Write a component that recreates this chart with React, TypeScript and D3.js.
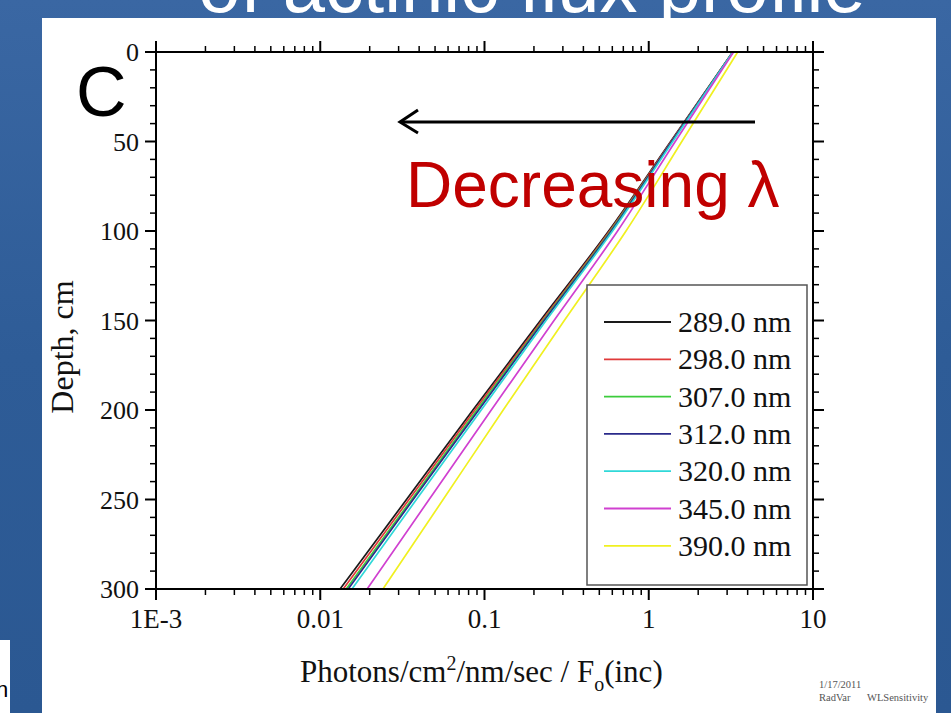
import React from "react";
import * as d3 from "d3";

const depths = [0, 50, 100, 150, 200, 250, 300];
const wavelengths = ["289.0 nm", "298.0 nm", "307.0 nm", "312.0 nm", "320.0 nm", "345.0 nm", "390.0 nm"];
const colors = ["#1a1a1a", "#e03a3a", "#3ccc3c", "#2a2a8a", "#30d8d8", "#d040d0", "#f0f020"];
const flux289 = [3.25, 1.36, 0.57, 0.219, 0.085, 0.0335, 0.0132];
const flux298 = [3.25, 1.37, 0.578, 0.224, 0.0874, 0.0347, 0.0138];
const flux307 = [3.25, 1.38, 0.586, 0.228, 0.09, 0.036, 0.0144];
const flux312 = [3.25, 1.38, 0.592, 0.231, 0.0922, 0.0368, 0.0148];
const flux320 = [3.25, 1.4, 0.602, 0.237, 0.0955, 0.0385, 0.0156];
const flux345 = [3.28, 1.45, 0.646, 0.265, 0.11, 0.046, 0.0193];
const flux390 = [3.48, 1.59, 0.727, 0.306, 0.13, 0.056, 0.0241];
const seriesValues = [flux289, flux298, flux307, flux312, flux320, flux345, flux390];
const xMajorTicks = [1e-3, 1e-2, 1e-1, 1, 10];
const xTickLabels = ["1E-3", "0.01", "0.1", "1", "10"];
const yMajorTicks = [0, 50, 100, 150, 200, 250, 300];

const W = 951, H = 713;
const serif = "'Liberation Serif', 'Times New Roman', serif";
const sans = "'Liberation Sans', Arial, sans-serif";

export default function App() {
  const x = d3.scaleLog().domain([1e-3, 10]).range([156, 813]);
  const y = d3.scaleLinear().domain([0, 300]).range([52, 589]);
  const [x0, x1] = x.range();
  const [y0, y1] = y.range();

  const xMinor: number[] = [];
  for (let e = -3; e < 1; e++) for (let k = 2; k <= 9; k++) xMinor.push(k * Math.pow(10, e));
  const yMinor = d3.range(0, 301, 10).filter((v) => v % 50 !== 0);

  const line = d3
    .line<[number, number]>()
    .x((d) => x(d[1]))
    .y((d) => y(d[0]))
    .curve(d3.curveMonotoneY);

  const MAJ = 11, MIN = 6;
  const legendX = 587, legendY = 285, legendW = 220, legendH = 300;
  const rowY0 = 322, rowStep = 37.3;

  return (
    <svg width={W} height={H} style={{ position: "fixed", left: 0, top: 0 }}>
      <defs>
        <linearGradient id="bg" x1="0" y1="0" x2="0" y2="1">
          <stop offset="0" stopColor="#3a67a3" />
          <stop offset="0.5" stopColor="#2e5c97" />
          <stop offset="1" stopColor="#2b5892" />
        </linearGradient>
        <clipPath id="plot">
          <rect x={x0} y={y0} width={x1 - x0} height={y1 - y0} />
        </clipPath>
      </defs>
      <rect x={0} y={0} width={W} height={H} fill="url(#bg)" />
      <text x={532} y={12} fill="#ffffff" fontFamily={sans} fontSize={76} textAnchor="middle">
        of actinic flux profile
      </text>
      <rect x={0} y={640} width={10} height={73} fill="#ffffff" />
      <text x={-4} y={697} fontFamily={sans} fontSize={22} fill="#000">n</text>
      <rect x={42} y={18} width={894} height={H - 18} fill="#ffffff" />

      {/* series */}
      <g clipPath="url(#plot)">
        {seriesValues.map((vals, i) => (
          <path
            key={i}
            d={line(depths.map((dp, j) => [dp, vals[j]] as [number, number])) || ""}
            fill="none"
            stroke={colors[i]}
            strokeWidth={1.7}
          />
        ))}
      </g>

      {/* axes frame */}
      <g stroke="#000" strokeWidth={2} fill="none">
        <line x1={x0} y1={y0} x2={x1} y2={y0} />
        <line x1={x0} y1={y1} x2={x1} y2={y1} />
        <line x1={x0} y1={y0} x2={x0} y2={y1} />
        <line x1={x1} y1={y0} x2={x1} y2={y1} />
        {xMajorTicks.map((t) => (
          <g key={"xm" + t}>
            <line x1={x(t)} x2={x(t)} y1={y1} y2={y1 + MAJ} />
            <line x1={x(t)} x2={x(t)} y1={y0} y2={y0 - MAJ} />
          </g>
        ))}
        {xMinor.map((t) => (
          <g key={"xn" + t}>
            <line x1={x(t)} x2={x(t)} y1={y1} y2={y1 + MIN} strokeWidth={1.5} />
            <line x1={x(t)} x2={x(t)} y1={y0} y2={y0 - MIN} strokeWidth={1.5} />
          </g>
        ))}
        {yMajorTicks.map((t) => (
          <g key={"ym" + t}>
            <line x1={x0} x2={x0 - MAJ} y1={y(t)} y2={y(t)} />
            <line x1={x1} x2={x1 + MAJ} y1={y(t)} y2={y(t)} />
          </g>
        ))}
        {yMinor.map((t) => (
          <g key={"yn" + t}>
            <line x1={x0} x2={x0 - MIN} y1={y(t)} y2={y(t)} strokeWidth={1.5} />
            <line x1={x1} x2={x1 + MIN} y1={y(t)} y2={y(t)} strokeWidth={1.5} />
          </g>
        ))}
      </g>

      {/* tick labels */}
      {xMajorTicks.map((t, i) => (
        <text key={"xl" + t} x={x(t)} y={628} fontFamily={serif} fontSize={27} textAnchor="middle" fill="#111">
          {xTickLabels[i]}
        </text>
      ))}
      {yMajorTicks.map((t) => (
        <text key={"yl" + t} x={139} y={y(t) + 9} fontFamily={serif} fontSize={26} textAnchor="end" fill="#111">
          {t}
        </text>
      ))}

      {/* axis titles */}
      <text x={300} y={682} fontFamily={serif} fontSize={31} fill="#111">
        Photons/cm
        <tspan fontSize={20} dy={-12}>2</tspan>
        <tspan dy={12}>/nm/sec / F</tspan>
        <tspan fontSize={20} dy={9}>o</tspan>
        <tspan dy={-9}>(inc)</tspan>
      </text>
      <text
        transform={`translate(73,347) rotate(-90)`}
        fontFamily={serif}
        fontSize={32}
        textAnchor="middle"
        fill="#111"
      >
        Depth, cm
      </text>

      {/* legend */}
      <rect x={legendX} y={legendY} width={legendW} height={legendH} fill="#fff" stroke="#555" strokeWidth={1.5} />
      {wavelengths.map((w, i) => (
        <g key={w}>
          <line x1={604} x2={671} y1={rowY0 + i * rowStep} y2={rowY0 + i * rowStep} stroke={colors[i]} strokeWidth={1.8} />
          <text x={678} y={rowY0 + i * rowStep + 10} fontFamily={serif} fontSize={30} fill="#111">
            {w}
          </text>
        </g>
      ))}

      {/* annotations */}
      <text x={76} y={116} fontFamily={sans} fontSize={70} fill="#000">C</text>
      <line x1={755} y1={122} x2={401} y2={122} stroke="#000" strokeWidth={3} />
      <polyline points="418,110 400,122 418,133" fill="none" stroke="#000" strokeWidth={3} />
      <text x={406} y={207} fontFamily={sans} fontSize={64} fill="#c00000">Decreasing λ</text>

      <text x={819} y={688} fontFamily={serif} fontSize={10.5} fill="#555">1/17/2011</text>
      <text x={819} y={701} fontFamily={serif} fontSize={10.5} fill="#555">RadVar</text>
      <text x={867} y={701} fontFamily={serif} fontSize={10.5} fill="#555">WLSensitivity</text>
    </svg>
  );
}
